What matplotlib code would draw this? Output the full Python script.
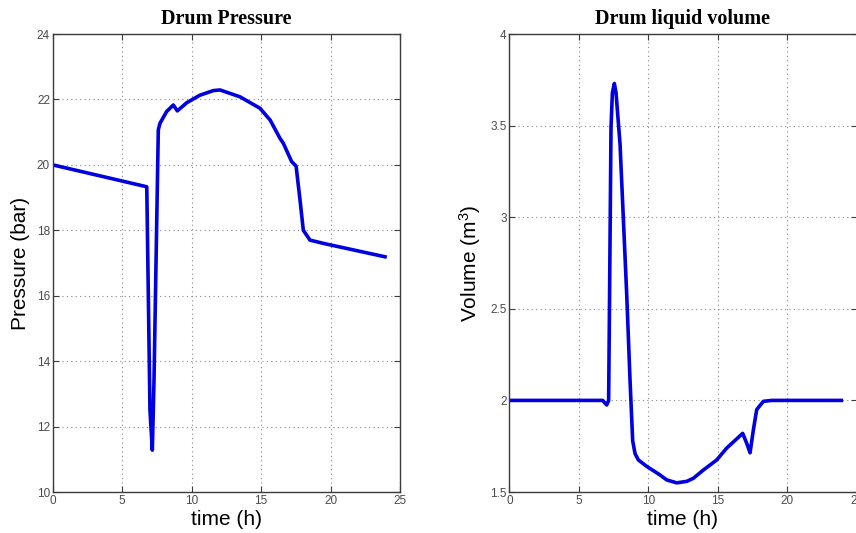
import matplotlib
matplotlib.use("Agg")
import matplotlib.pyplot as plt

plt.rcParams['font.family'] = ['Liberation Sans', 'DejaVu Sans']
plt.rcParams['mathtext.fontset'] = 'custom'
plt.rcParams['mathtext.rm'] = 'Liberation Sans'
plt.rcParams['mathtext.it'] = 'Liberation Sans:italic'

# Drum pressure (bar) vs time (h)
t_pressure = [0.0, 6.77, 7.0, 7.17, 7.29, 7.6, 7.72, 8.2, 8.68, 8.97, 9.65, 10.6,
              11.56, 12.04, 13.48, 14.92, 15.65, 16.36, 16.6, 17.2, 17.52, 17.8,
              18.04, 18.52, 19.48, 23.92]
pressure = [20.0, 19.33, 12.5, 11.28, 13.4, 21.07, 21.27, 21.63, 21.83, 21.65, 21.9,
            22.13, 22.27, 22.29, 22.08, 21.73, 21.37, 20.81, 20.66, 20.1, 19.96,
            18.93, 18.0, 17.7, 17.6, 17.19]

# Drum liquid volume (m^3) vs time (h)
t_volume = [0.0, 6.72, 7.01, 7.15, 7.22, 7.32, 7.42, 7.56, 7.68, 7.97, 8.45, 8.69,
            8.88, 9.05, 9.29, 9.89, 10.85, 11.33, 12.05, 12.77, 13.25, 13.97,
            14.93, 15.65, 16.37, 16.8, 17.09, 17.33, 17.57, 17.81, 18.29, 18.9, 23.9]
volume = [2.0, 2.0, 1.975, 2.0, 2.6, 3.49, 3.68, 3.73, 3.68, 3.40, 2.58, 2.11,
          1.78, 1.71, 1.675, 1.64, 1.593, 1.566, 1.55, 1.558, 1.575, 1.62,
          1.675, 1.74, 1.79, 1.82, 1.766, 1.714, 1.84, 1.95, 1.995, 2.0, 2.0]

x_ticks = [0, 5, 10, 15, 20, 25]
p_ticks = [10, 12, 14, 16, 18, 20, 22, 24]
v_ticks = [1.5, 2, 2.5, 3, 3.5, 4]
v_tick_labels = ['1.5', '2', '2.5', '3', '3.5', '4']

LINE = '#0000e0'
SPINE = '#3c3c3c'
TICKTXT = '#4a4a4a'

fig = plt.figure(figsize=(8.56, 5.33), dpi=100)
ax1 = fig.add_axes([0.0616, 0.0769, 0.4057, 0.8593])
ax2 = fig.add_axes([0.5950, 0.0769, 0.4057, 0.8593])


def style(ax):
    for s in ax.spines.values():
        s.set_color(SPINE)
        s.set_linewidth(1.0)
    ax.tick_params(direction='in', top=True, right=True, length=4,
                   width=0.8, color=SPINE, labelsize=8.5, labelcolor=TICKTXT,
                   pad=2)
    ax.grid(True, linestyle=(0, (1, 3)), color='#888888', linewidth=0.8)
    ax.set_axisbelow(True)
    ax.set_xlim(0, 25)
    ax.set_xticks(x_ticks)
    ax.set_xlabel('time (h)', fontsize=15, labelpad=2)


ax1.plot(t_pressure, pressure, color=LINE, linewidth=2.6)
style(ax1)
ax1.set_ylim(10, 24)
ax1.set_yticks(p_ticks)
ax1.set_ylabel('Pressure (bar)', fontsize=15, labelpad=5)
ax1.set_title('Drum Pressure', fontsize=14.5, fontweight='bold',
              family='Liberation Serif', pad=7)

ax2.plot(t_volume, volume, color=LINE, linewidth=2.6)
style(ax2)
ax2.set_ylim(1.5, 4)
ax2.set_yticks(v_ticks)
ax2.set_yticklabels(v_tick_labels)
ax2.set_ylabel(r'Volume (m$^{3}$)', fontsize=15, labelpad=5)
ax2.set_title('Drum liquid volume', fontsize=14.5, fontweight='bold',
              family='Liberation Serif', pad=7)

fig.savefig('out.png', dpi=100)
